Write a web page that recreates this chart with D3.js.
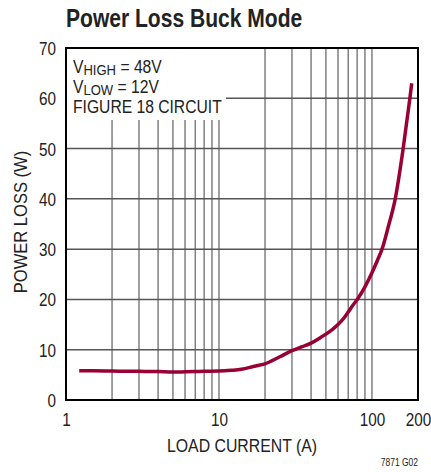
<!DOCTYPE html>
<html>
<head>
<meta charset="utf-8">
<script src="https://cdn.jsdelivr.net/npm/d3@7"></script>
<style>
  body { margin: 0; background: #fff; }
  text { font-family: "Liberation Sans Narrow", "Liberation Sans", sans-serif; }
</style>
</head>
<body>
<div id="graph"></div>
<script>
// power loss vs load current, buck mode
const loadCurrent = [1.22, 1.5, 2, 3, 4, 5, 6, 7, 8, 10, 12, 14, 17, 20, 25, 30, 35, 40, 46, 50, 55, 60, 66, 70, 74, 81, 90, 100, 108, 117, 128, 142, 160, 177, 182];
const powerLoss  = [5.8, 5.8, 5.75, 5.7, 5.65, 5.55, 5.6, 5.65, 5.7, 5.75, 5.9, 6.1, 6.7, 7.2, 8.6, 9.8, 10.6, 11.3, 12.4, 13.1, 14.0, 15.0, 16.4, 17.5, 18.6, 20.2, 22.5, 25.3, 27.6, 30.2, 34.5, 40, 50, 60, 63];
const xTicks = [1, 10, 100, 200];
const yTicks = [0, 10, 20, 30, 40, 50, 60, 70];
const xGrid = [2, 3, 4, 5, 6, 7, 8, 9, 10, 20, 30, 40, 50, 60, 70, 80, 90, 100];
const noteLines = [["V", "HIGH", " = 48V"], ["V", "LOW", " = 12V"], ["FIGURE 18 CIRCUIT", "", ""]];

const margin = {top: 48, right: 13, bottom: 72, left: 66};
const width = 431 - margin.left - margin.right;
const height = 472 - margin.top - margin.bottom;
const squeeze = 0.85; // no narrow face installed, so squash the regular one

const x = d3.scaleLog().domain([1, 200]).range([0, width]);
const y = d3.scaleLinear().domain([0, 70]).range([height, 0]);

const root = d3.select("#graph")
    .append("svg")
        .attr("width", 431)
        .attr("height", 472);

function label(parent, px, py, size, str, anchor) {
    return parent.append("text")
        .attr("transform", `translate(${px}, ${py}) scale(${squeeze}, 1)`)
        .attr("text-anchor", anchor || "start")
        .attr("font-size", size)
        .attr("fill", "#222")
        .text(str);
}

label(root, 66, 27, 26, "Power Loss Buck Mode")
    .attr("font-weight", "bold")
    .attr("transform", "translate(66, 27) scale(0.81, 1)");

const svg = root.append("g")
    .attr("transform", `translate(${margin.left}, ${margin.top})`);

// the note box keeps the grid clear in the top-left corner
const boxBottom = 72;
const boxRight = 160;

svg.append("g")
    .selectAll("line")
    .data(xGrid)
    .join("line")
        .attr("x1", d => x(d)).attr("x2", d => x(d))
        .attr("y1", d => d <= 10 ? boxBottom : 0)
        .attr("y2", height)
        .attr("stroke", "#808080").attr("stroke-width", 1.5);

svg.append("g")
    .selectAll("line")
    .data(yTicks.slice(1, -1))
    .join("line")
        .attr("x1", d => y(d) < boxBottom ? boxRight : 0)
        .attr("x2", width)
        .attr("y1", d => y(d)).attr("y2", d => y(d))
        .attr("stroke", "#555").attr("stroke-width", 1.5);

const line = d3.line()
    .x((d, i) => x(loadCurrent[i]))
    .y(d => y(d))
    .curve(d3.curveMonotoneX);

svg.append("path")
    .datum(powerLoss)
    .attr("fill", "none")
    .attr("stroke", "#990033")
    .attr("stroke-width", 3.5)
    .attr("d", line);

svg.append("rect")
    .attr("width", width).attr("height", height)
    .attr("fill", "none").attr("stroke", "#000").attr("stroke-width", 2);

// axes
const xAxis = svg.append("g")
    .attr("transform", `translate(0, ${height})`)
    .call(d3.axisBottom(x).tickValues(xTicks).tickSize(0).tickPadding(0).tickFormat(d3.format("d")));
xAxis.select(".domain").remove();
xAxis.selectAll("text")
    .attr("dy", null).attr("y", 0)
    .attr("transform", `translate(0, 26) scale(${squeeze}, 1)`)
    .attr("font-size", 18).attr("fill", "#222")
    .attr("font-family", null);

const yAxis = svg.append("g")
    .call(d3.axisLeft(y).tickValues(yTicks).tickSize(0).tickPadding(0));
yAxis.select(".domain").remove();
yAxis.selectAll("text")
    .attr("x", 0).attr("dy", "0.36em")
    .attr("transform", `translate(-10, 0) scale(${squeeze}, 1)`)
    .attr("font-size", 18).attr("fill", "#222")
    .attr("font-family", null);

label(root, 242, 452, 18, "LOAD CURRENT (A)", "middle")
    .attr("transform", "translate(242, 452) scale(0.88, 1)");

root.append("text")
    .attr("transform", "translate(27, 222) rotate(-90) scale(0.92, 1)")
    .attr("text-anchor", "middle")
    .attr("font-size", 18).attr("fill", "#222")
    .text("POWER LOSS (W)");

label(root, 418, 466, 10, "7871 G02", "end");

const note = svg.append("g");
noteLines.forEach((parts, i) => {
    const t = label(note, 7, 25 + i * 20, 18, parts[0])
        .attr("transform", `translate(7, ${25 + i * 20}) scale(0.87, 1)`);
    if (parts[1]) {
        t.append("tspan").attr("dy", 2).attr("font-size", 15).text(parts[1]);
        t.append("tspan").attr("dy", -2).text(parts[2]);
    }
});
</script>
</body>
</html>
